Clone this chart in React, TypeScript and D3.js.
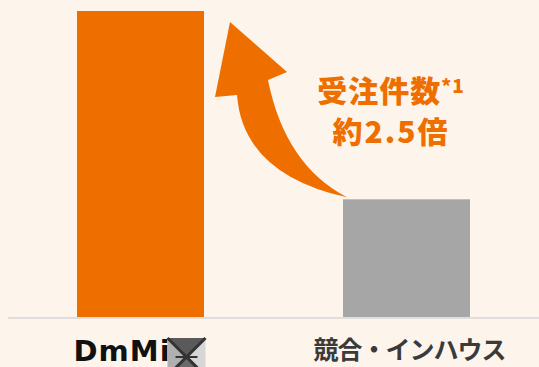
import React from "react";
import * as d3 from "d3";

const categories = ["DmMiX", "競合・インハウス"];
const values = [2.6, 1.0];
const annotationLine1 = "受注件数";
const annotationSup = "*1";
const annotationLine2 = "約2.5倍";

const W = 539;
const H = 367;
const ORANGE = "#EE6E00";
const GRAY = "#A6A6A6";
const BG = "#FDF5EC";

export default function App() {
  const x = d3
    .scaleBand<string>()
    .domain(categories)
    .range([10.5, 536.5])
    .paddingInner(0.5226)
    .paddingOuter(0.25);
  const y = d3.scaleLinear().domain([0, 2.6]).range([317, 11]);
  const colors = [ORANGE, GRAY];

  const ox = x(categories[0])! + x.bandwidth();
  const oy = y(values[0]);
  const gx = x(categories[1])!;
  const gy = y(values[1]);

  // arrow anchored between the two bars
  const tip: [number, number] = [ox + 26, oy + 11];
  const bottom: [number, number] = [gx + 4, gy - 2];
  const path = d3.path();
  path.moveTo(tip[0], tip[1]);
  path.lineTo(tip[0] + 57, tip[1] + 50);
  path.lineTo(tip[0] + 38, tip[1] + 58);
  path.quadraticCurveTo(tip[0] + 55, tip[1] + 143, bottom[0], bottom[1]);
  path.quadraticCurveTo(tip[0] + 13, tip[1] + 152, tip[0] + 7, tip[1] + 73);
  path.lineTo(tip[0] - 15, tip[1] + 75);
  path.closePath();

  const cx1 = x(categories[0])! + x.bandwidth() / 2;
  const cx2 = x(categories[1])! + x.bandwidth() / 2;
  const textX = 391;

  return (
    <svg
      width={W}
      height={H}
      style={{ position: "absolute", left: 0, top: 0, background: BG }}
    >
      <rect x={0} y={0} width={W} height={H} fill={BG} />
      {values.map((v, i) => (
        <rect
          key={categories[i]}
          x={x(categories[i])}
          y={y(v)}
          width={x.bandwidth()}
          height={y(0) - y(v)}
          fill={colors[i]}
        />
      ))}
      <line x1={8} x2={W} y1={318} y2={318} stroke="#E0DEDC" strokeWidth={2} />
      <path d={path.toString()} fill={ORANGE} />
      <text
        x={textX}
        y={102}
        textAnchor="middle"
        fill={ORANGE}
        fontFamily="'Noto Sans CJK JP', sans-serif"
        fontWeight="900"
        fontSize={30}
        letterSpacing={1}
      >
        {annotationLine1}
        <tspan fontSize={19} dy={-9}>{annotationSup}</tspan>
      </text>
      <text
        x={textX}
        y={143}
        textAnchor="middle"
        fill={ORANGE}
        fontFamily="'Noto Sans CJK JP', sans-serif"
        fontWeight="900"
        fontSize={30}
        letterSpacing={2}
      >
        {annotationLine2}
      </text>
      {/* DmMiX logo label */}
      <g>
        <text
          x={cx1 - 67}
          y={361}
          fill="#111"
          fontFamily="'DejaVu Sans', sans-serif"
          fontWeight="600"
          fontSize={29}
          letterSpacing={1}
        >
          DmMi
        </text>
        {(() => {
          const s = 38;
          const lx = cx1 + 27;
          const ty = 338;
          const c: [number, number] = [lx + s / 2, ty + s / 2];
          const tl: [number, number] = [lx, ty];
          const tr: [number, number] = [lx + s, ty];
          const bl: [number, number] = [lx, ty + s];
          const br: [number, number] = [lx + s, ty + s];
          const tri = (a: number[], b: number[], col: string) => (
            <polygon
              points={`${a[0]},${a[1]} ${b[0]},${b[1]} ${c[0]},${c[1]}`}
              fill={col}
            />
          );
          return (
            <g>
              {tri(tl, tr, "#5a5a5a")}
              {tri(tr, br, "#d6d6d6")}
              {tri(br, bl, "#6a6a6a")}
              {tri(bl, tl, "#b0b0b0")}
              <line x1={tl[0]} y1={tl[1]} x2={br[0]} y2={br[1]} stroke="#333" strokeWidth={3} />
              <line x1={tr[0]} y1={tr[1]} x2={bl[0]} y2={bl[1]} stroke="#333" strokeWidth={3} />
              <line x1={lx + 8} y1={c[1]} x2={lx + s - 8} y2={c[1]} stroke="#333" strokeWidth={2} />
            </g>
          );
        })()}
      </g>
      <text
        x={cx2 + 3}
        y={359}
        textAnchor="middle"
        fill="#3a3a3a"
        fontFamily="'Noto Sans CJK JP', sans-serif"
        fontWeight="bold"
        fontSize={25}
        letterSpacing={-1}
      >
        {categories[1]}
      </text>
    </svg>
  );
}
